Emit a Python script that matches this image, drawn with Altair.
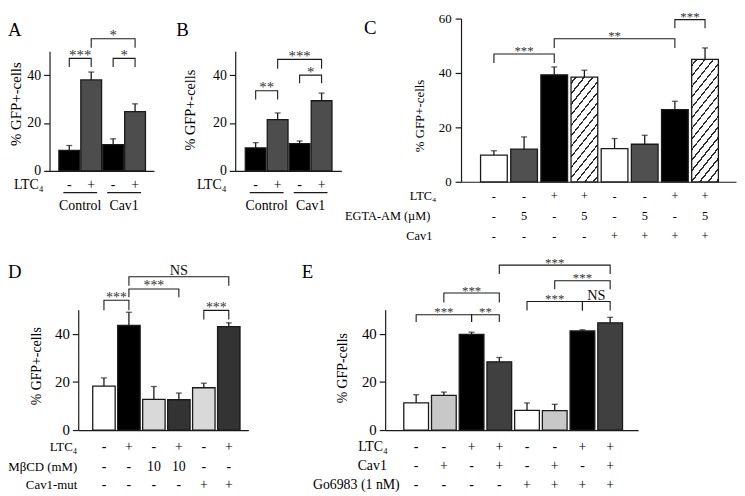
import altair as alt
import pandas as pd

FONT = "Liberation Serif"
INK = "#1a1a1a"
W, H = 737, 488

# ---------------- values ----------------
A_VALUES = [8.6, 38.0, 11.0, 24.8]
A_ERRORS = [10.6, 41.3, 13.4, 28.0]
A_FILLS = ["#000000", "#4d4d4d", "#000000", "#4d4d4d"]
A_LTC4 = ["-", "+", "-", "+"]
A_GROUPS = ["Control", "Cav1"]
A_GROUP_BARS = [[0, 1], [2, 3]]
A_BRACKETS = [[0, 1, 47.0, 43.4, "***"], [2, 3, 47.0, 43.4, "*"], [1, 3, 55.2, 51.4, "*"]]

B_VALUES = [9.6, 21.4, 11.4, 29.3]
B_ERRORS = [11.8, 24.2, 12.5, 32.5]
B_FILLS = ["#000000", "#4d4d4d", "#000000", "#4d4d4d"]
B_LTC4 = ["-", "+", "-", "+"]
B_GROUPS = ["Control", "Cav1"]
B_GROUP_BARS = [[0, 1], [2, 3]]
B_BRACKETS = [[0, 1, 33.5, 29.8, "**"], [2, 3, 40.0, 36.6, "*"], [1, 3, 46.6, 42.7, "***"]]

C_VALUES = [9.8, 12.0, 39.3, 38.5, 12.2, 13.8, 26.5, 45.0]
C_ERRORS = [11.4, 16.5, 42.2, 41.0, 15.9, 17.1, 29.6, 49.2]
C_FILLS = ["#ffffff", "#505050", "#000000", "hatch", "#ffffff", "#505050", "#000000", "hatch"]
C_LTC4 = ["-", "-", "+", "+", "-", "-", "+", "+"]
C_EGTA = ["-", "5", "-", "5", "-", "5", "-", "5"]
C_CAV1 = ["-", "-", "-", "-", "+", "+", "+", "+"]
C_BRACKETS = [[0, 2, 47.0, 43.7, "***"], [2, 6, 52.6, 49.2, "**"], [6, 7, 59.6, 56.4, "***"]]

D_VALUES = [18.3, 43.5, 12.8, 12.6, 17.6, 43.0]
D_ERRORS = [21.7, 49.0, 18.1, 15.4, 19.5, 44.6]
D_FILLS = ["#ffffff", "#000000", "#d9d9d9", "#333333", "#d9d9d9", "#333333"]
D_LTC4 = ["-", "+", "-", "+", "-", "+"]
D_MBCD = ["-", "-", "10", "10", "-", "-"]
D_CAV1MUT = ["-", "-", "-", "-", "+", "+"]
D_BRACKETS = [[0, 1, 54.0, 49.8, "***"], [1, 3, 58.7, 55.3, "***"],
              [1, 5, 63.8, 60.0, "NS"], [4, 5, 49.8, 46.0, "***"]]

E_VALUES = [11.3, 14.4, 39.8, 28.4, 8.2, 8.1, 41.2, 44.6]
E_ERRORS = [14.7, 15.8, 40.7, 30.2, 11.3, 10.7, 41.7, 46.9]
E_FILLS = ["#ffffff", "#c8c8c8", "#000000", "#404040", "#ffffff", "#c8c8c8", "#000000", "#404040"]
E_LTC4 = ["-", "-", "+", "+", "-", "-", "+", "+"]
E_CAV1 = ["-", "+", "-", "+", "-", "+", "-", "+"]
E_GO = ["-", "-", "-", "-", "+", "+", "+", "+"]
E_BRACKETS = [[0, 2, 48.0, 45.0, "***"], [2, 3, 48.0, 45.0, "**"], [1, 3, 57.0, 53.1, "***"],
              [4, 6, 53.5, 49.7, "***"], [6, 7, 53.5, 49.7, "NS"], [5, 7, 62.1, 58.6, "***"],
              [3, 7, 68.6, 64.9, "***"]]

LTC = "LTC\u2084"

# ---------------- layout (pixels) ----------------
LAY_A = dict(axis_x=42, c0=58.5, step=24.5, end_x=147.5, y0=162, ytop=41, ymax=50, ticks=[0, 20, 40], bar_w=21)
LAY_B = dict(axis_x=229.7, c0=247, step=24.5, end_x=337, y0=162, ytop=41, ymax=50, ticks=[0, 20, 40], bar_w=21)
LAY_C = dict(axis_x=458, c0=487.3, step=31.63, end_x=736, y0=173, ytop=8, ymax=60, ticks=[0, 20, 40, 60], bar_w=27)
LAY_D = dict(axis_x=71, c0=93.3, step=26.8, end_x=243, y0=424, ytop=302.5, ymax=50, ticks=[0, 20, 40], bar_w=22.7)
LAY_E = dict(axis_x=381.3, c0=408.7, step=29.16, end_x=637, y0=424, ytop=302.5, ymax=50, ticks=[0, 20, 40], bar_w=25)

STY_A = dict(tick_fs=14, title_fs=15, text_fs=14, label_fs=14, star_fs=15, title_x=8, title_y=94, tick=6, pad=3)
STY_B = dict(tick_fs=14, title_fs=14.5, text_fs=14, label_fs=14, star_fs=15, title_x=185, title_y=100, tick=6, pad=3)
STY_C = dict(tick_fs=13, title_fs=13, text_fs=12.5, label_fs=12.5, star_fs=13, title_x=416, title_y=106, tick=6, pad=4)
STY_D = dict(tick_fs=15, title_fs=14, text_fs=14, label_fs=13, star_fs=14, title_x=29, title_y=359, tick=6, pad=3)
STY_E = dict(tick_fs=15, title_fs=14, text_fs=14, label_fs=14, star_fs=13, title_x=338, title_y=361, tick=6, pad=3)


def hatch_fill(w, h, period=8.5, lw=1.3, p=1.0, q=0.8, ink="#2a2a2a"):
    span = p * w + q * h
    k = span / (p * p * w * w + q * q * h * h)
    tp = p * period / span
    tl = lw * (p * p + q * q) ** 0.5 / span
    stops = [alt.GradientStop(offset=0, color="white")]
    t = tp * 0.5
    while t + tl < 1:
        a, b = round(t, 5), round(t + tl, 5)
        stops += [alt.GradientStop(offset=a, color="white"), alt.GradientStop(offset=a, color=ink),
                  alt.GradientStop(offset=b, color=ink), alt.GradientStop(offset=b, color="white")]
        t += tp
    stops.append(alt.GradientStop(offset=1, color="white"))
    return alt.LinearGradient(gradient="linear", stops=stops, x1=0, y1=0,
                              x2=round(k * p * w, 5), y2=round(k * q * h, 5))


def panel(values, errors, fills, brackets, rows, lay, sty, letter, ytitle,
          groups=None, group_bars=None, group_y=None):
    n = len(values)
    lo = (lay["axis_x"] - lay["c0"]) / lay["step"]
    hi = (lay["end_x"] - lay["c0"]) / lay["step"]
    xs = alt.Scale(domain=[lo, hi], range=[lay["axis_x"], lay["end_x"]], zero=False, nice=False)
    ys = alt.Scale(domain=[0, lay["ymax"]], range=[lay["y0"], lay["ytop"]], zero=False, nice=False)
    x_axis = alt.Axis(orient="bottom", offset=lay["y0"] - H, domain=True, domainColor=INK,
                      domainWidth=1.2, ticks=False, labels=False, grid=False, title=None)
    y_axis = alt.Axis(orient="left", offset=-lay["axis_x"], values=lay["ticks"], format="d",
                      grid=False, domainColor=INK, domainWidth=1.2, tickColor=INK, tickWidth=1.2,
                      tickSize=sty["tick"], labelFont=FONT, labelFontSize=sty["tick_fs"],
                      labelColor="black", labelPadding=sty["pad"], title=ytitle, titleFont=FONT,
                      titleFontSize=sty["title_fs"], titleFontWeight="normal", titleColor="black",
                      titleX=sty["title_x"] - lay["axis_x"], titleY=sty["title_y"],
                      titleBaseline="middle", titleAngle=270, titleAlign="center")

    # every layer carries the same scale and axis definitions so they merge cleanly
    def X(f):
        return alt.X(f, scale=xs, axis=x_axis)

    def Y(f):
        return alt.Y(f, scale=ys, axis=y_axis)

    df = pd.DataFrame({"i": list(range(n)), "v": values, "e": errors, "fill": fills})
    base = alt.Chart(df)
    layers = [
        base.transform_filter(alt.datum.fill != "hatch")
        .mark_bar(orient="vertical", width=lay["bar_w"], stroke=INK, strokeWidth=1.3)
        .encode(x=X("i:Q"), y=Y("v:Q"), fill=alt.Fill("fill:N", scale=None))
    ]
    px_per_unit = (lay["y0"] - lay["ytop"]) / lay["ymax"]
    for idx, f in enumerate(fills):
        if f == "hatch":
            grad = hatch_fill(lay["bar_w"], values[idx] * px_per_unit)
            layers.append(
                base.transform_filter(alt.datum.i == idx)
                .mark_bar(orient="vertical", width=lay["bar_w"], stroke=INK, strokeWidth=1.3, fill=grad)
                .encode(x=X("i:Q"), y=Y("v:Q"))
            )
    layers.append(base.mark_rule(color=INK, strokeWidth=1.3).encode(x=X("i:Q"), y=Y("v:Q"), y2="e:Q"))
    layers.append(base.mark_tick(orient="horizontal", size=6, thickness=1.3, color=INK)
                  .encode(x=X("i:Q"), y=Y("e:Q")))

    # significance brackets
    pts, labs = [], []
    for k, (a, b, lev, end, lab) in enumerate(brackets):
        pts += [dict(k=k, o=0, i=a, v=end), dict(k=k, o=1, i=a, v=lev),
                dict(k=k, o=2, i=b, v=lev), dict(k=k, o=3, i=b, v=end)]
        labs.append(dict(i=(a + b) / 2, v=lev, t=lab))
    bdf = pd.DataFrame(pts)
    ldf = pd.DataFrame(labs)
    layers.append(alt.Chart(bdf).mark_line(color=INK, strokeWidth=1.1)
                  .encode(x=X("i:Q"), y=Y("v:Q"), detail="k:N", order="o:Q"))
    layers.append(alt.Chart(ldf).transform_filter(alt.datum.t != "NS")
                  .mark_text(font=FONT, fontSize=sty["star_fs"], baseline="alphabetic", dy=1.5, color="#333333")
                  .encode(x=X("i:Q"), y=Y("v:Q"), text="t:N"))
    layers.append(alt.Chart(ldf).transform_filter(alt.datum.t == "NS")
                  .mark_text(font=FONT, fontSize=14.5, baseline="alphabetic", dy=-1.5, color="#111111")
                  .encode(x=X("i:Q"), y=Y("v:Q"), text="t:N"))

    one = pd.DataFrame({"k": [0]})
    # condition rows below the axis
    for label, vals, lx, ry in rows:
        rdf = pd.DataFrame({"i": list(range(n)), "t": vals})
        layers.append(alt.Chart(rdf).mark_text(font=FONT, fontSize=sty["text_fs"], baseline="middle", color="black")
                      .encode(x=X("i:Q"), y=alt.value(ry), text="t:N"))
        layers.append(alt.Chart(one).mark_text(font=FONT, fontSize=sty["label_fs"], align="right",
                                               baseline="middle", color="black")
                      .encode(x=alt.value(lx), y=alt.value(ry), text=alt.value(label)))
    if groups:
        gdf = pd.DataFrame({"i": [g[0] for g in group_bars], "b": [g[1] for g in group_bars],
                            "m": [(g[0] + g[1]) / 2 for g in group_bars], "t": groups})
        layers.append(alt.Chart(gdf).mark_rule(color=INK, strokeWidth=1.1, xOffset=-6, x2Offset=6)
                      .encode(x=X("i:Q"), x2="b:Q", y=alt.value(group_y[0])))
        layers.append(alt.Chart(gdf).mark_text(font=FONT, fontSize=sty["text_fs"], baseline="middle", color="black")
                      .encode(x=X("m:Q"), y=alt.value(group_y[1]), text="t:N"))
    # panel letter
    layers.append(alt.Chart(one).mark_text(font=FONT, fontSize=19, align="left", baseline="alphabetic", color="black")
                  .encode(x=alt.value(letter[1]), y=alt.value(letter[2]), text=alt.value(letter[0])))
    return alt.layer(*layers)


pA = panel(A_VALUES, A_ERRORS, A_FILLS, A_BRACKETS, [(LTC, A_LTC4, 36, 176.5)], LAY_A, STY_A,
           ("A", 0, 26), "% GFP+-cells", A_GROUPS, A_GROUP_BARS, (184, 198))
pB = panel(B_VALUES, B_ERRORS, B_FILLS, B_BRACKETS, [(LTC, B_LTC4, 221, 176.5)], LAY_B, STY_B,
           ("B", 170, 26), "% GFP+-cells", B_GROUPS, B_GROUP_BARS, (184, 198))
pC = panel(C_VALUES, C_ERRORS, C_FILLS, C_BRACKETS,
           [(LTC, C_LTC4, 433, 187.7), ("EGTA-AM (\u00b5M)", C_EGTA, 427, 207.7), ("Cav1", C_CAV1, 429, 227.7)],
           LAY_C, STY_C, ("C", 360, 24), "% GFP+-cells")
pD = panel(D_VALUES, D_ERRORS, D_FILLS, D_BRACKETS,
           [(LTC, D_LTC4, 70, 441), ("M\u03b2CD (mM)", D_MBCD, 70, 461), ("Cav1-mut", D_CAV1MUT, 70, 480)],
           LAY_D, STY_D, ("D", 0, 270), "% GFP+-cells")
pE = panel(E_VALUES, E_ERRORS, E_FILLS, E_BRACKETS,
           [(LTC, E_LTC4, 384, 441), ("Cav1", E_CAV1, 383, 460.5), ("Go6983 (1 nM)", E_GO, 396, 480)],
           LAY_E, STY_E, ("E", 297, 270), "% GFP-cells")

chart = (
    alt.layer(pA, pB, pC, pD, pE)
    .resolve_scale(x="independent", y="independent")
    .properties(width=W, height=H, padding=0, background="white")
    .configure_view(stroke=None)
)

chart.save("out.html", embed_options={"renderer": "svg", "actions": False})
